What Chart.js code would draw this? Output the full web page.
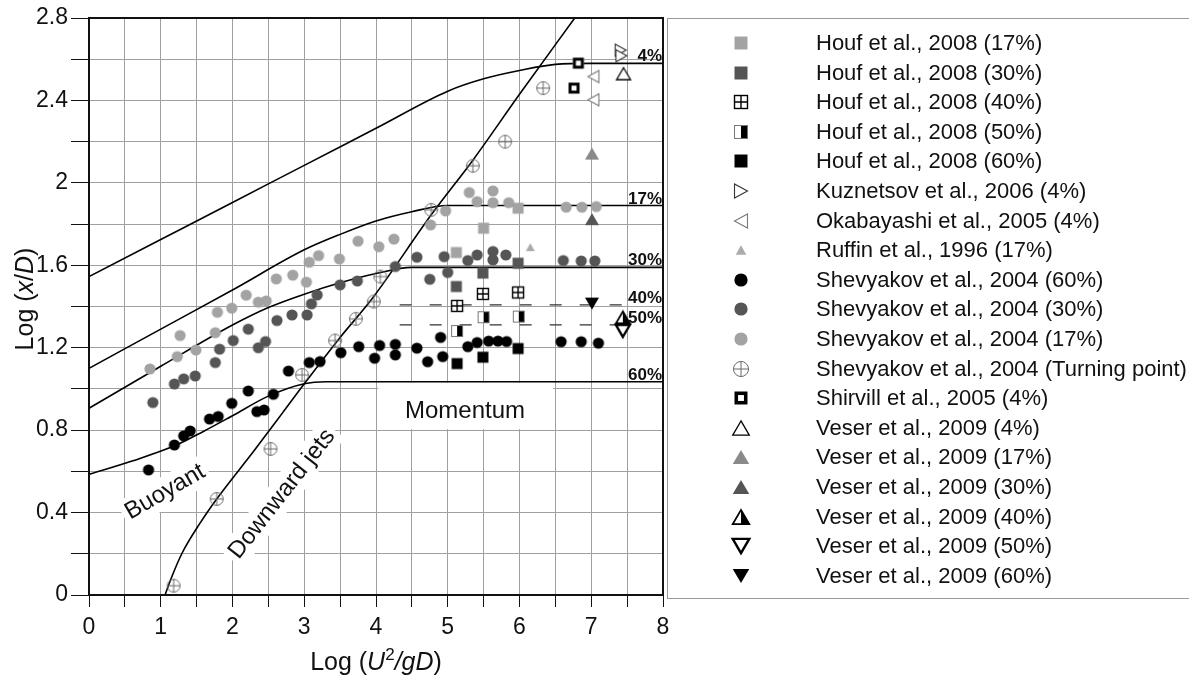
<!DOCTYPE html>
<html>
<head>
<meta charset="utf-8">
<title>Log (x/D) vs Log (U2/gD)</title>
<script src="https://cdn.jsdelivr.net/npm/chart.js@4.4.1/dist/chart.umd.min.js"></script>
<style>
  html, body { margin: 0; padding: 0; background: #fff; }
  #wrap { width: 1189px; height: 675px; }
</style>
</head>
<body>
<div id="wrap"><canvas id="chart" width="1189" height="675"></canvas></div>
<script>
const FONT = '"Liberation Sans", Arial, Helvetica, sans-serif';

// Correlation curves as [Log(U2/gD), Log(x/D)]
const curve4 = [[0, 1.545], [1, 1.725], [2, 1.905], [3, 2.085], [4, 2.265], [5, 2.445], [5.5, 2.505], [6, 2.545], [6.5, 2.575], [7, 2.58], [8, 2.58]];
const curve17 = [[0, 1.10], [1, 1.29], [2, 1.48], [3, 1.675], [3.5, 1.75], [4, 1.815], [4.5, 1.86], [5, 1.89], [8, 1.89]];
const curve30 = [[0, 0.906], [1, 1.11], [2, 1.31], [2.5, 1.395], [3, 1.46], [3.5, 1.515], [4, 1.56], [4.5, 1.59], [8, 1.59]];
const curve60 = [[0, 0.585], [0.6, 0.65], [1.2, 0.725], [1.6, 0.795], [2, 0.87], [2.5, 0.965], [3, 1.025], [3.3, 1.035], [8, 1.035]];
const curveJets = [[1.06, 0], [1.15, 0.085], [1.3, 0.205], [1.55, 0.35], [1.78, 0.466], [2.3, 0.70], [2.7, 0.885], [3.0, 1.025], [3.5, 1.25], [3.95, 1.44], [4.77, 1.845], [5.35, 2.11], [6.0, 2.43], [6.77, 2.8]];
const dash40 = [[4.33, 1.408], [7.45, 1.408]];
const dash50 = [[4.33, 1.311], [7.45, 1.311]];

// Experimental points
const houf17 = [[5.12, 1.662], [5.50, 1.78], [5.98, 1.877]];
const houf30 = [[5.12, 1.497], [5.49, 1.562], [5.98, 1.61]];
const houf40 = [[5.13, 1.403], [5.49, 1.461], [5.98, 1.468]];
const houf50 = [[5.13, 1.281], [5.50, 1.348], [5.99, 1.351]];
const houf60 = [[5.13, 1.123], [5.49, 1.154], [5.98, 1.196]];
const kuznetsov4 = [[7.41, 2.644], [7.42, 2.617]];
const okabayashi4 = [[7.03, 2.516], [7.03, 2.403]];
const ruffin17 = [[6.15, 1.688]];
const shev60 = [[0.83, 0.607], [1.19, 0.728], [1.32, 0.772], [1.41, 0.796], [1.68, 0.854], [1.80, 0.866], [1.99, 0.930], [2.22, 0.990], [2.34, 0.890], [2.44, 0.898], [2.57, 0.974], [2.78, 1.087], [3.07, 1.128], [3.22, 1.133], [3.51, 1.176], [3.76, 1.205], [3.98, 1.149], [4.05, 1.211], [4.27, 1.216], [4.27, 1.165], [4.57, 1.198], [4.72, 1.132], [4.90, 1.25], [4.93, 1.157], [5.28, 1.205], [5.41, 1.225], [5.57, 1.232], [5.70, 1.232], [5.82, 1.23], [6.58, 1.229], [6.86, 1.229], [7.10, 1.222]];
const shev30 = [[0.89, 0.934], [1.19, 1.024], [1.32, 1.049], [1.48, 1.063], [1.76, 1.128], [1.82, 1.193], [2.01, 1.235], [2.22, 1.29], [2.36, 1.20], [2.46, 1.23], [2.62, 1.332], [2.83, 1.359], [3.04, 1.359], [3.10, 1.413], [3.18, 1.456], [3.50, 1.505], [3.74, 1.524], [4.27, 1.594], [4.57, 1.639], [4.75, 1.532], [4.95, 1.642], [5.00, 1.565], [5.28, 1.623], [5.41, 1.65], [5.63, 1.667], [5.63, 1.626], [5.81, 1.65], [6.61, 1.623], [6.86, 1.621], [7.05, 1.621]];
const shev17 = [[0.85, 1.097], [1.23, 1.157], [1.27, 1.259], [1.49, 1.189], [1.76, 1.273], [1.79, 1.372], [1.99, 1.392], [2.19, 1.455], [2.36, 1.421], [2.47, 1.427], [2.61, 1.534], [2.84, 1.552], [3.03, 1.518], [3.07, 1.615], [3.20, 1.647], [3.49, 1.631], [3.75, 1.717], [4.04, 1.69], [4.25, 1.727], [4.76, 1.796], [4.97, 1.864], [5.30, 1.953], [5.41, 1.909], [5.63, 1.961], [5.63, 1.904], [5.85, 1.904], [6.65, 1.882], [6.87, 1.882], [7.07, 1.885]];
const shevTurn = [[1.18, 0.045], [1.78, 0.466], [2.53, 0.709], [2.97, 1.068], [3.43, 1.235], [3.72, 1.34], [3.97, 1.424], [4.06, 1.545], [4.77, 1.869], [5.35, 2.083], [5.80, 2.20], [6.33, 2.46]];
const shirvill4 = [[6.82, 2.581], [6.76, 2.46]];
const veser4 = [[7.45, 2.53]];
const veser17 = [[7.01, 2.142]];
const veser30 = [[7.01, 1.824]];
const veser40 = [[7.44, 1.347]];
const veser50 = [[7.44, 1.282]];
const veser60 = [[7.01, 1.414]];

const seriesLabels = [
    'Houf et al., 2008 (17%)', 'Houf et al., 2008 (30%)', 'Houf et al., 2008 (40%)',
    'Houf et al., 2008 (50%)', 'Houf et al., 2008 (60%)', 'Kuznetsov et al., 2006 (4%)',
    'Okabayashi et al., 2005 (4%)', 'Ruffin et al., 1996 (17%)', 'Shevyakov et al., 2004 (60%)',
    'Shevyakov et al., 2004 (30%)', 'Shevyakov et al., 2004 (17%)', 'Shevyakov et al., 2004 (Turning point)',
    'Shirvill et al., 2005 (4%)', 'Veser et al., 2009 (4%)', 'Veser et al., 2009 (17%)',
    'Veser et al., 2009 (30%)', 'Veser et al., 2009 (40%)', 'Veser et al., 2009 (50%)', 'Veser et al., 2009 (60%)'
];
const seriesData = [houf17, houf30, houf40, houf50, houf60, kuznetsov4, okabayashi4, ruffin17, shev60, shev30, shev17, shevTurn, shirvill4, veser4, veser17, veser30, veser40, veser50, veser60];
const seriesMarkers = ['square', 'square', 'squareCross', 'squareHalf', 'square', 'triRight', 'triLeft', 'triSmall', 'circle', 'circle', 'circle', 'circlePlus', 'squareThick', 'triOpen', 'tri', 'tri', 'triHalf', 'triDownOpen', 'triDown'];
const seriesColors = ['#a3a3a3', '#555555', '#000', '#000', '#000', '#333', '#7a7a7a', '#ababab', '#000', '#555555', '#a3a3a3', '#6a6a6a', '#000', '#000', '#8a8a8a', '#555555', '#000', '#000', '#000'];

// Percentage labels at the right end of each curve
const curveTags = ['4%', '17%', '30%', '40%', '50%', '60%'];
const curveTagY = [2.58, 1.89, 1.59, 1.408, 1.311, 1.035];

// Marker images, used for the plot and the legend
function makeMarker(kind, color, k) {
    let size = Math.ceil(24 * k);
    if (size % 2) size++;
    const cv = document.createElement('canvas');
    cv.width = size;
    cv.height = size;
    const c = cv.getContext('2d');
    c.translate(size / 2, size / 2);
    const s = 11 * k, r = 5.6 * k, tw = 14 * k, th = 12 * k;
    c.fillStyle = color;
    c.strokeStyle = color;
    c.lineWidth = 1.3;
    const tri = (dir, w, h) => {
        c.beginPath();
        if (dir === 'up') { c.moveTo(0, -h / 2); c.lineTo(w / 2, h / 2); c.lineTo(-w / 2, h / 2); }
        else if (dir === 'down') { c.moveTo(0, h / 2); c.lineTo(w / 2, -h / 2); c.lineTo(-w / 2, -h / 2); }
        else if (dir === 'right') { c.moveTo(w / 2, 0); c.lineTo(-w / 2, -h / 2); c.lineTo(-w / 2, h / 2); }
        else { c.moveTo(-w / 2, 0); c.lineTo(w / 2, -h / 2); c.lineTo(w / 2, h / 2); }
        c.closePath();
    };
    switch (kind) {
        case 'circle':
            c.beginPath(); c.arc(0, 0, r, 0, Math.PI * 2); c.fill();
            break;
        case 'circlePlus':
            c.lineWidth = 1;
            c.beginPath(); c.arc(0, 0, r + 0.8 * k, 0, Math.PI * 2); c.stroke();
            c.beginPath(); c.moveTo(-r - 0.8 * k, 0); c.lineTo(r + 0.8 * k, 0);
            c.moveTo(0, -r - 0.8 * k); c.lineTo(0, r + 0.8 * k); c.stroke();
            break;
        case 'square':
            c.fillRect(-s / 2, -s / 2, s, s);
            break;
        case 'squareCross':
            c.fillStyle = '#fff'; c.fillRect(-s / 2, -s / 2, s, s);
            c.lineWidth = 1.4; c.strokeRect(-s / 2, -s / 2, s, s);
            c.beginPath(); c.moveTo(-s / 2, 0); c.lineTo(s / 2, 0); c.moveTo(0, -s / 2); c.lineTo(0, s / 2); c.stroke();
            break;
        case 'squareHalf':
            c.fillStyle = '#fff'; c.fillRect(-s / 2, -s / 2, s, s);
            c.fillStyle = color; c.fillRect(0, -s / 2, s / 2, s);
            c.lineWidth = 1; c.strokeStyle = '#777'; c.strokeRect(-s / 2, -s / 2, s, s);
            break;
        case 'squareThick':
            c.fillStyle = '#fff'; c.fillRect(-s / 2, -s / 2, s, s);
            c.lineWidth = 3 * k; c.strokeRect(-s / 2 + 1.5 * k, -s / 2 + 1.5 * k, s - 3 * k, s - 3 * k);
            break;
        case 'tri':
            tri('up', tw, th); c.fill();
            break;
        case 'triSmall':
            tri('up', 9 * k, 8 * k); c.fill();
            break;
        case 'triOpen':
            tri('up', tw, th); c.fillStyle = '#fff'; c.fill(); c.lineWidth = 1.3; c.stroke();
            break;
        case 'triHalf':
            tri('up', tw, th); c.fillStyle = '#fff'; c.fill();
            c.beginPath(); c.moveTo(0, -th / 2); c.lineTo(tw / 2, th / 2); c.lineTo(0, th / 2); c.closePath();
            c.fillStyle = color; c.fill();
            tri('up', tw, th); c.lineWidth = 1.8; c.stroke();
            break;
        case 'triDownOpen':
            tri('down', tw, th); c.fillStyle = '#fff'; c.fill(); c.lineWidth = 2.4; c.stroke();
            break;
        case 'triDown':
            tri('down', tw, th); c.fill();
            break;
        case 'triRight':
            tri('right', 11 * k, 12 * k); c.fillStyle = '#fff'; c.fill(); c.lineWidth = 1.1; c.stroke();
            break;
        case 'triLeft':
            tri('left', 11 * k, 12 * k); c.fillStyle = '#fff'; c.fill(); c.lineWidth = 1.1; c.stroke();
            break;
    }
    return cv;
}

const toXY = arr => arr.map(([x, y]) => ({ x, y }));

const pointSets = seriesLabels.map((label, i) => ({
    type: 'scatter',
    label: label,
    data: toXY(seriesData[i]),
    pointStyle: makeMarker(seriesMarkers[i], seriesColors[i], 1),
    legendMarker: makeMarker(seriesMarkers[i], seriesColors[i], 1.18),
    pointRadius: 6,
    order: 0,
}));

function curveSet(data, dash) {
    return {
        type: 'line',
        label: '',
        data: toXY(data),
        borderColor: dash ? '#333' : '#000',
        borderWidth: dash ? 1.4 : 1.6,
        borderDash: dash ? [12, 18] : [],
        pointRadius: 0,
        cubicInterpolationMode: 'monotone',
        fill: false,
        order: 5,
        isCurve: true,
    };
}

const lineSets = [curve4, curve17, curve30, curve60, curveJets].map(c => curveSet(c, false))
    .concat([dash40, dash50].map(c => curveSet(c, true)));

// Mixed-style text (italic pieces, superscript)
function partFont(p, size) {
    return (p.italic ? 'italic ' : '') + (p.sup ? Math.round(size * 0.68) : size) + 'px ' + FONT;
}
function drawRich(ctx, parts, size, cx, cy, angle) {
    ctx.save();
    ctx.translate(cx, cy);
    ctx.rotate(angle || 0);
    ctx.textBaseline = 'alphabetic';
    ctx.textAlign = 'left';
    ctx.fillStyle = '#111';
    let total = 0;
    const widths = parts.map(p => {
        ctx.font = partFont(p, size);
        const w = ctx.measureText(p.t).width;
        total += w;
        return w;
    });
    let x = -total / 2;
    const base = size * 0.36;
    parts.forEach((p, i) => {
        ctx.font = partFont(p, size);
        ctx.fillText(p.t, x, base - (p.sup ? size * 0.42 : 0));
        x += widths[i];
    });
    ctx.restore();
}

// Rotated text in the plot, with a white patch behind it
const plotTexts = [
    { t: 'Buoyant', x: 1.06, y: 0.5, angle: -30 },
    { t: 'Downward jets', x: 2.69, y: 0.49, angle: -52 },
    { t: 'Momentum', x: 5.24, y: 0.89, angle: 0 },
];

const decor = {
    id: 'decor',
    beforeDatasetsDraw(chart) {
        const { ctx, scales: { x, y } } = chart;
        ctx.save();
        ctx.fillStyle = '#fff';
        // blank box behind "Momentum"
        const l = x.getPixelForValue(4.03), r = x.getPixelForValue(6.47);
        const t = y.getPixelForValue(1.03), b = y.getPixelForValue(0.805);
        ctx.fillRect(l, t, r - l, b - t);
        ctx.font = '24px ' + FONT;
        plotTexts.slice(0, 2).forEach(p => {
            const w = ctx.measureText(p.t).width;
            ctx.save();
            ctx.translate(x.getPixelForValue(p.x), y.getPixelForValue(p.y));
            ctx.rotate(p.angle * Math.PI / 180);
            ctx.fillRect(-w / 2 - 4, -15, w + 8, 30);
            ctx.restore();
        });
        ctx.restore();
    },
    afterDatasetsDraw(chart) {
        const { ctx, chartArea: a, scales: { x, y } } = chart;
        ctx.save();
        // frame of the plot
        ctx.strokeStyle = '#111';
        ctx.lineWidth = 2;
        ctx.strokeRect(a.left, a.top, a.right - a.left, a.bottom - a.top);

        // curve tags
        ctx.fillStyle = '#111';
        ctx.font = 'bold 17px ' + FONT;
        ctx.textAlign = 'right';
        ctx.textBaseline = 'alphabetic';
        curveTags.forEach((t, i) => {
            ctx.fillText(t, a.right - 1, y.getPixelForValue(curveTagY[i]) - 2);
        });

        // regime labels
        ctx.font = '24px ' + FONT;
        ctx.textAlign = 'center';
        ctx.textBaseline = 'middle';
        plotTexts.forEach(p => {
            ctx.save();
            ctx.translate(x.getPixelForValue(p.x), y.getPixelForValue(p.y));
            ctx.rotate(p.angle * Math.PI / 180);
            ctx.fillText(p.t, 0, 0);
            ctx.restore();
        });
        ctx.restore();

        // axis titles
        drawRich(ctx, [{ t: 'Log (' }, { t: 'U', italic: true }, { t: '2', sup: true }, { t: '/gD', italic: true }, { t: ')' }],
            25, (a.left + a.right) / 2, 661);
        drawRich(ctx, [{ t: 'Log (' }, { t: 'x', italic: true }, { t: '/' }, { t: 'D', italic: true }, { t: ')' }],
            25, 24, 299, -Math.PI / 2);

        // legend box
        ctx.save();
        ctx.strokeStyle = '#9a9a9a';
        ctx.lineWidth = 1;
        ctx.strokeRect(667.5, 18.5, 540, 580);
        ctx.font = '22px ' + FONT;
        ctx.fillStyle = '#111';
        ctx.textAlign = 'left';
        ctx.textBaseline = 'middle';
        chart.data.datasets.forEach(ds => {
            if (ds.isCurve) return;
            const i = seriesLabels.indexOf(ds.label);
            const cy = 43 + i * 29.6;
            const m = ds.legendMarker;
            ctx.drawImage(m, Math.round(741 - m.width / 2), Math.round(cy - m.height / 2));
            ctx.fillText(ds.label, 816, cy + 1);
        });
        ctx.restore();
    }
};

const tickFont = { family: FONT, size: 23 };

new Chart(document.getElementById('chart'), {
    type: 'scatter',
    data: { datasets: pointSets.concat(lineSets) },
    options: {
        responsive: false,
        animation: false,
        events: [],
        layout: { padding: { left: 0, top: 18, right: 526, bottom: 0 } },
        plugins: { legend: { display: false }, tooltip: { enabled: false } },
        scales: {
            x: {
                type: 'linear', min: 0, max: 8,
                ticks: {
                    stepSize: 0.5, autoSkip: false, maxRotation: 0, color: '#111', font: tickFont, padding: 7,
                    callback: v => Number.isInteger(v) ? String(v) : '',
                },
                grid: { color: '#a0a0a0', lineWidth: 1, tickColor: '#111', tickLength: 12 },
                border: { color: '#111', width: 2 },
                afterFit: s => { s.height = 80; },
            },
            y: {
                type: 'linear', min: 0, max: 2.8,
                ticks: {
                    stepSize: 0.2, autoSkip: false, color: '#111', font: tickFont, padding: 3,
                    callback: v => { const r = Math.round(v * 10); return r % 4 === 0 ? String(r / 10) : ''; },
                },
                grid: { color: '#a0a0a0', lineWidth: 1, tickColor: '#111', tickLength: 18 },
                border: { color: '#111', width: 2 },
                afterFit: s => { s.width = 89; },
            },
        },
    },
    plugins: [decor],
});
</script>
</body>
</html>
